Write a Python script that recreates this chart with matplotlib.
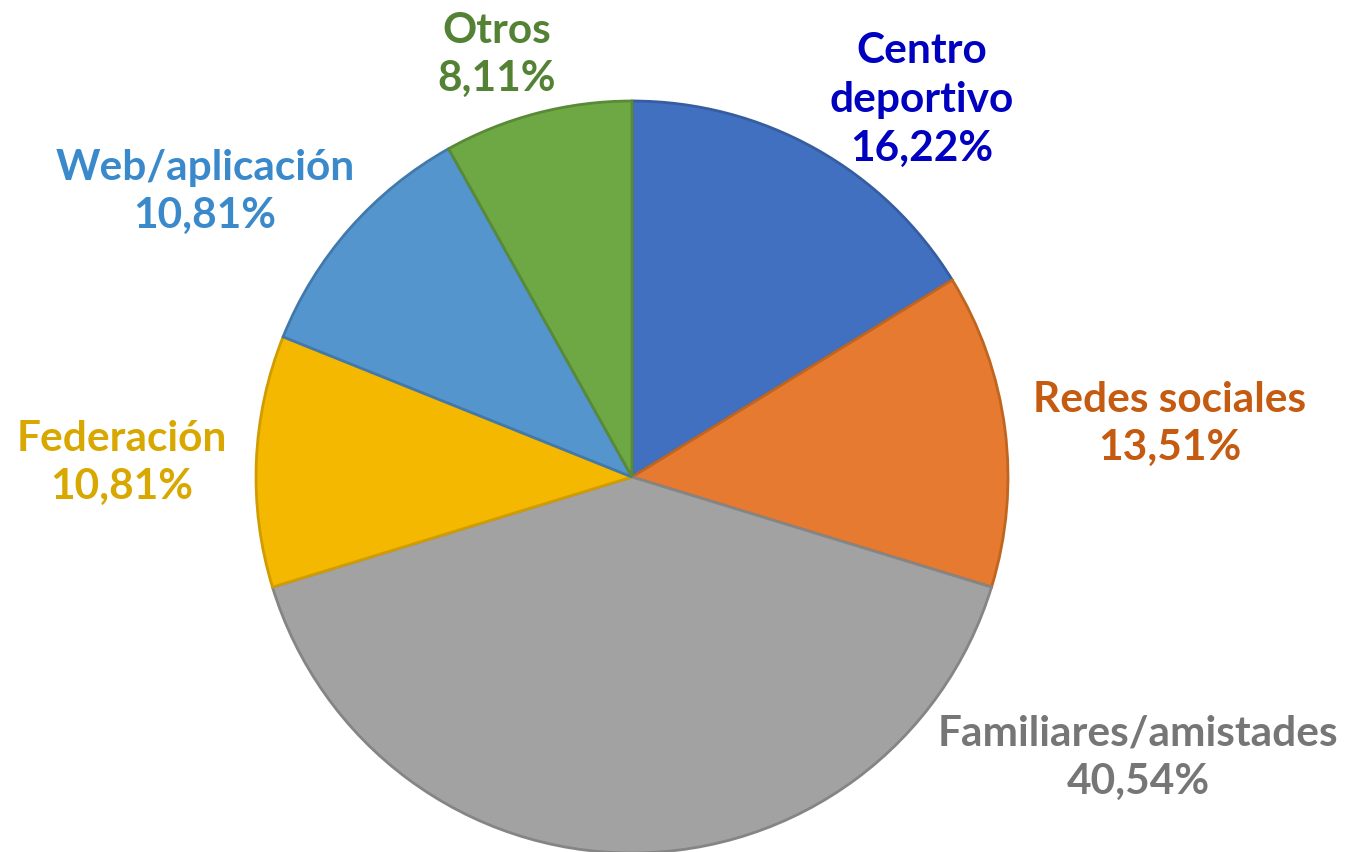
import matplotlib
matplotlib.use('Agg')
import matplotlib.pyplot as plt

categories = ['Centro\ndeportivo', 'Redes sociales', 'Familiares/amistades',
              'Federación', 'Web/aplicación', 'Otros']
values = [16.22, 13.51, 40.54, 10.81, 10.81, 8.11]
pct_labels = ['16,22%', '13,51%', '40,54%', '10,81%', '10,81%', '8,11%']

slice_colors = ['#4270C0', '#E67A30', '#A2A2A2', '#F4B800', '#5595CE', '#6EA845']
edge_colors = ['#365DA0', '#C0651F', '#858585', '#D09C00', '#4279AD', '#598A36']
text_colors = ['#0000C0', '#C55A11', '#767676', '#D8A800', '#3A8ACB', '#548235']

# label anchor points (pixels from top-left)
label_pos = [(922, 100), (1170, 424), (1138, 758), (122, 463), (205, 192), (497, 55)]

W, H = 1349, 853
fig = plt.figure(figsize=(W / 100, H / 100), dpi=100)
ax = fig.add_axes([0, 0, 1, 1])

cx, cy, r = 632, H - 478, 376
wedges, _ = ax.pie(values, colors=slice_colors, startangle=90, counterclock=False,
                   center=(cx, cy), radius=r, frame=True)
for w, ec in zip(wedges, edge_colors):
    w.set_edgecolor(ec)
    w.set_linewidth(2)
ax.set_xlim(0, W)
ax.set_ylim(0, H)
ax.set_aspect('equal')
ax.axis('off')

for cat, pct, col, (x, y) in zip(categories, pct_labels, text_colors, label_pos):
    ax.text(x, H - y, cat + '\n' + pct, ha='center', va='center', color=col,
            fontsize=30.5, fontweight='bold', family=['Lato', 'DejaVu Sans'],
            linespacing=1.34)

fig.savefig('out.png', dpi=100)
